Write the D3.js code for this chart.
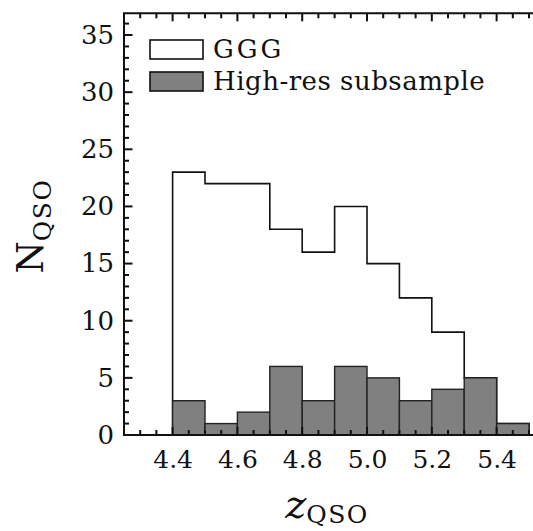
<!DOCTYPE html>
<html>
<head>
<meta charset="utf-8">
<script src="https://cdn.jsdelivr.net/npm/d3@7"></script>
<style>
  body { margin: 0; background: #fff; }
  text { font-family: "DejaVu Serif", serif; fill: #111; }
</style>
</head>
<body>
<div id="chart"></div>
<script>
// Histogram bins (edges, width 0.1)
var binEdges = [4.4, 4.5, 4.6, 4.7, 4.8, 4.9, 5.0, 5.1, 5.2, 5.3, 5.4, 5.5];
var gggCounts = [23, 22, 22, 18, 16, 20, 15, 12, 9, 5, 1];
var hiresCounts = [3, 1, 2, 6, 3, 6, 5, 3, 4, 5, 1];

var xTickValues = [4.4, 4.6, 4.8, 5.0, 5.2, 5.4];
var yTickValues = [0, 5, 10, 15, 20, 25, 30, 35];
var legendLabels = ["GGG", "High-res subsample"];

var svgWidth = 533;
var svgHeight = 531;

var svg = d3.select("#chart")
    .append("svg")
    .attr("width", svgWidth)
    .attr("height", svgHeight);

// Scales
var xScale = d3.scaleLinear()
    .domain([4.25, 5.52])
    .range([124, 535.5]);

var yScale = d3.scaleLinear()
    .domain([0, 36.9])
    .range([435, 13.3]);

var x0 = xScale.range()[0], x1 = xScale.range()[1];
var y0 = yScale.range()[0], y1 = yScale.range()[1];

// Step outline for a histogram
function stepPath(counts) {
    var pts = [[binEdges[0], 0]];
    counts.forEach(function(c, i) {
        pts.push([binEdges[i], c]);
        pts.push([binEdges[i + 1], c]);
    });
    pts.push([binEdges[binEdges.length - 1], 0]);
    return d3.line()
        .x(d => xScale(d[0]))
        .y(d => yScale(d[1]))(pts);
}

// GGG histogram (white, outlined)
svg.append("path")
    .attr("d", stepPath(gggCounts))
    .attr("fill", "#fff")
    .attr("stroke", "#111")
    .attr("stroke-width", 1.6);

// High-res subsample bars (grey)
svg.selectAll("rect.hires")
    .data(hiresCounts)
    .enter()
    .append("rect")
    .attr("class", "hires")
    .attr("x", (d, i) => xScale(binEdges[i]))
    .attr("y", d => yScale(d))
    .attr("width", (d, i) => xScale(binEdges[i + 1]) - xScale(binEdges[i]))
    .attr("height", d => yScale(0) - yScale(d))
    .attr("fill", "#808080")
    .attr("stroke", "#222")
    .attr("stroke-width", 1.4);

// Tick labels via axes (no tick lines)
svg.append("g")
    .attr("transform", `translate(0, ${y0})`)
    .call(d3.axisBottom(xScale).tickValues(xTickValues).tickSize(0)
        .tickPadding(15).tickFormat(d3.format(".1f")))
    .call(g => g.select(".domain").remove())
    .selectAll("text")
    .style("font-family", "'DejaVu Serif', serif")
    .style("font-size", "25px")
    .attr("fill", "#111");

svg.append("g")
    .attr("transform", `translate(${x0}, 0)`)
    .call(d3.axisLeft(yScale).tickValues(yTickValues).tickSize(0).tickPadding(10))
    .call(g => g.select(".domain").remove())
    .selectAll("text")
    .style("font-family", "'DejaVu Serif', serif")
    .style("font-size", "26px")
    .attr("fill", "#111");

// Frame
svg.append("path")
    .attr("d", `M${x1},${y0}H${x0}V${y1}H${x1}V${y0}`)
    .attr("fill", "none")
    .attr("stroke", "#111")
    .attr("stroke-width", 2);

// Tick marks, pointing inward, drawn as small filled rects
var xMinor = d3.range(4.3, 5.52, 0.05).map(v => +v.toFixed(2));
var yMinor = d3.range(0, 37, 1);
var isMajorX = v => xTickValues.some(t => Math.abs(t - v) < 1e-6);
var isMajorY = v => v % 5 === 0;

var tickGroup = svg.append("g").attr("fill", "#111");

tickGroup.selectAll("rect.xtb")
    .data(xMinor)
    .enter()
    .append("rect")
    .attr("class", "xtb")
    .attr("x", d => xScale(d) - 1)
    .attr("y", d => y0 - (isMajorX(d) ? 8 : 5))
    .attr("width", 2)
    .attr("height", d => isMajorX(d) ? 8 : 5);

tickGroup.selectAll("rect.xtt")
    .data(xMinor)
    .enter()
    .append("rect")
    .attr("class", "xtt")
    .attr("x", d => xScale(d) - 1)
    .attr("y", y1)
    .attr("width", 2)
    .attr("height", d => isMajorX(d) ? 8 : 5);

tickGroup.selectAll("rect.yt")
    .data(yMinor)
    .enter()
    .append("rect")
    .attr("class", "yt")
    .attr("x", x0)
    .attr("y", d => yScale(d) - 1)
    .attr("width", d => isMajorY(d) ? 8.5 : 5)
    .attr("height", 2);

// Legend
var legend = svg.append("g").attr("transform", "translate(150, 40)");
legendLabels.forEach(function(label, i) {
    legend.append("rect")
        .attr("x", 0)
        .attr("y", i * 32)
        .attr("width", 53)
        .attr("height", 19)
        .attr("fill", i === 0 ? "#fff" : "#808080")
        .attr("stroke", "#111")
        .attr("stroke-width", 1.6);
    legend.append("text")
        .attr("x", 63)
        .attr("y", i * 32 + 18)
        .style("font-size", "26px")
        .style("letter-spacing", i === 0 ? "3px" : "0.5px")
        .text(label);
});

// Axis labels
svg.append("text")
    .attr("transform", `translate(43, 226) rotate(-90)`)
    .attr("text-anchor", "middle")
    .style("font-size", "37px")
    .call(t => {
        t.append("tspan").text("N");
        t.append("tspan").attr("dy", 8).style("font-size", "25px")
            .style("letter-spacing", "1.5px").text("QSO");
    });

svg.append("text")
    .attr("transform", `translate(327, 518)`)
    .attr("text-anchor", "middle")
    .style("font-size", "40px")
    .call(t => {
        t.append("tspan").style("font-style", "italic").text("z");
        t.append("tspan").attr("dy", 5).style("font-size", "25px")
            .style("letter-spacing", "1.5px").text("QSO");
    });
</script>
</body>
</html>
